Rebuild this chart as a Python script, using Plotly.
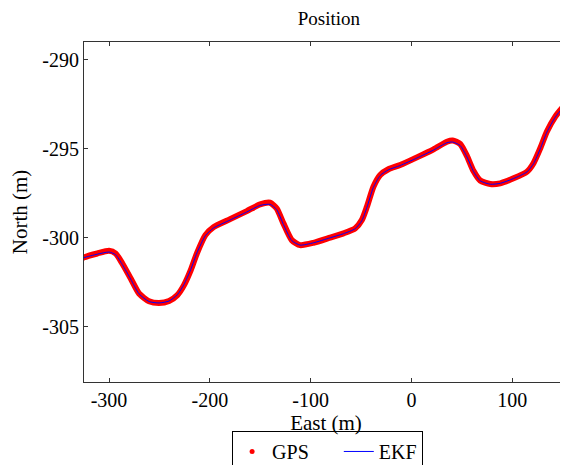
import plotly.graph_objects as go

# GPS track (East, North) in metres
gps_east = [-330.0, -324.8, -311.6, -300.0, -293.4, -286.8, -278.5, -270.2, -260.3, -250.4,
            -240.4, -232.2, -225.6, -218.9, -212.7, -204.4, -196.3, -179.9, -163.3, -150.1,
            -140.2, -133.6, -127.0, -118.7, -110.4, -97.2, -80.6, -67.4, -55.8, -49.2,
            -44.2, -37.7, -31.0, -22.8, -11.2, 5.4, 21.9, 35.2, 40.9, 48.4,
            55.0, 61.6, 68.2, 78.2, 88.1, 101.3, 114.6, 121.1, 127.8, 134.4,
            142.7, 149.3, 155.3, 160.0]
gps_north = [-301.30, -301.10, -300.88, -300.73, -300.88, -301.44, -302.28, -303.13, -303.56, -303.66,
             -303.55, -303.22, -302.66, -301.82, -300.86, -299.85, -299.40, -298.95, -298.50, -298.12,
             -298.03, -298.35, -299.19, -300.13, -300.41, -300.28, -299.99, -299.75, -299.47, -299.00,
             -298.26, -297.13, -296.47, -296.15, -295.91, -295.48, -295.03, -294.60, -294.53, -294.73,
             -295.40, -296.25, -296.78, -296.98, -296.94, -296.66, -296.29, -295.81, -294.97, -294.03,
             -293.19, -292.72, -292.35, -292.10]

# EKF estimate (East, North) in metres
ekf_east = [-330.0, -324.8, -311.6, -300.0, -293.4, -286.8, -278.5, -270.2, -260.3, -250.4,
            -240.4, -232.2, -225.6, -218.9, -212.7, -204.4, -196.3, -179.9, -163.3, -150.1,
            -140.2, -133.6, -127.0, -118.7, -110.4, -97.2, -80.6, -67.4, -55.8, -49.2,
            -44.2, -37.7, -31.0, -22.8, -11.2, 5.4, 21.9, 35.2, 40.9, 48.4,
            55.0, 61.6, 68.2, 78.2, 88.1, 101.3, 114.6, 121.1, 127.8, 134.4,
            142.7, 149.3, 155.3, 160.0]
ekf_north = [-301.32, -301.12, -300.92, -300.80, -300.95, -301.50, -302.32, -303.15, -303.58, -303.66,
             -303.55, -303.20, -302.62, -301.78, -300.84, -299.88, -299.45, -299.00, -298.55, -298.18,
             -298.12, -298.42, -299.25, -300.16, -300.41, -300.28, -300.00, -299.77, -299.49, -299.04,
             -298.30, -297.16, -296.50, -296.18, -295.94, -295.52, -295.07, -294.66, -294.62, -294.82,
             -295.45, -296.28, -296.80, -296.99, -296.94, -296.67, -296.30, -295.84, -295.00, -294.06,
             -293.22, -292.75, -292.38, -292.12]

x_ticks = [-300, -200, -100, 0, 100]
x_tick_labels = ["-300", "-200", "-100", "0", "100"]
y_ticks = [-305, -300, -295, -290]
y_tick_labels = ["-305", "-300", "-295", "-290"]

FONT = "Liberation Serif"
PAD = "\u00a0" * 5  # widens the first legend entry like the reference

fig = go.Figure()
fig.add_trace(go.Scatter(x=gps_east, y=gps_north, mode="lines",
                         line=dict(color="#ff0000", width=6, shape="spline", smoothing=0.6),
                         showlegend=False, legendgroup="gps", hoverinfo="skip"))
fig.add_trace(go.Scatter(x=[None], y=[None], mode="markers", name="GPS" + PAD,
                         marker=dict(color="#ff0000", size=5), legendgroup="gps"))
fig.add_trace(go.Scatter(x=ekf_east, y=ekf_north, mode="lines", name="EKF",
                         line=dict(color="#0000ff", width=1, shape="spline", smoothing=0.6)))

axis_common = dict(showgrid=False, zeroline=False, showline=True, linecolor="#333333",
                   linewidth=1, mirror="ticks", ticks="inside", ticklen=4, automargin=False,
                   tickcolor="#333333", tickfont=dict(family=FONT, size=20, color="black"))

# The page body adds an 8px offset, so the figure is sized 8px smaller on each axis
fig.update_layout(
    width=560, height=457,
    margin=dict(l=76, r=0, t=34, b=83, autoexpand=False),
    paper_bgcolor="white", plot_bgcolor="white",
    title=dict(text="Position", x=0.573, xanchor="center", xref="container",
               y=0.978, yanchor="middle", yref="container",
               font=dict(family=FONT, size=19, color="black")),
    xaxis=dict(range=[-324.8, 155.3], tickvals=x_ticks, ticktext=x_tick_labels,
               title=dict(text="East (m)", standoff=0, font=dict(family=FONT, size=21, color="black")),
               **axis_common),
    yaxis=dict(range=[-308.1, -289.0], tickvals=y_ticks, ticktext=y_tick_labels,
               title=dict(text="North (m)", standoff=9, font=dict(family=FONT, size=21, color="black")),
               **axis_common),
    legend=dict(orientation="h", x=0.306, xanchor="left", y=-0.144, yanchor="top",
                bordercolor="black", borderwidth=1, bgcolor="white",
                font=dict(family=FONT, size=20, color="black")),
)

fig.write_html("out.html")
